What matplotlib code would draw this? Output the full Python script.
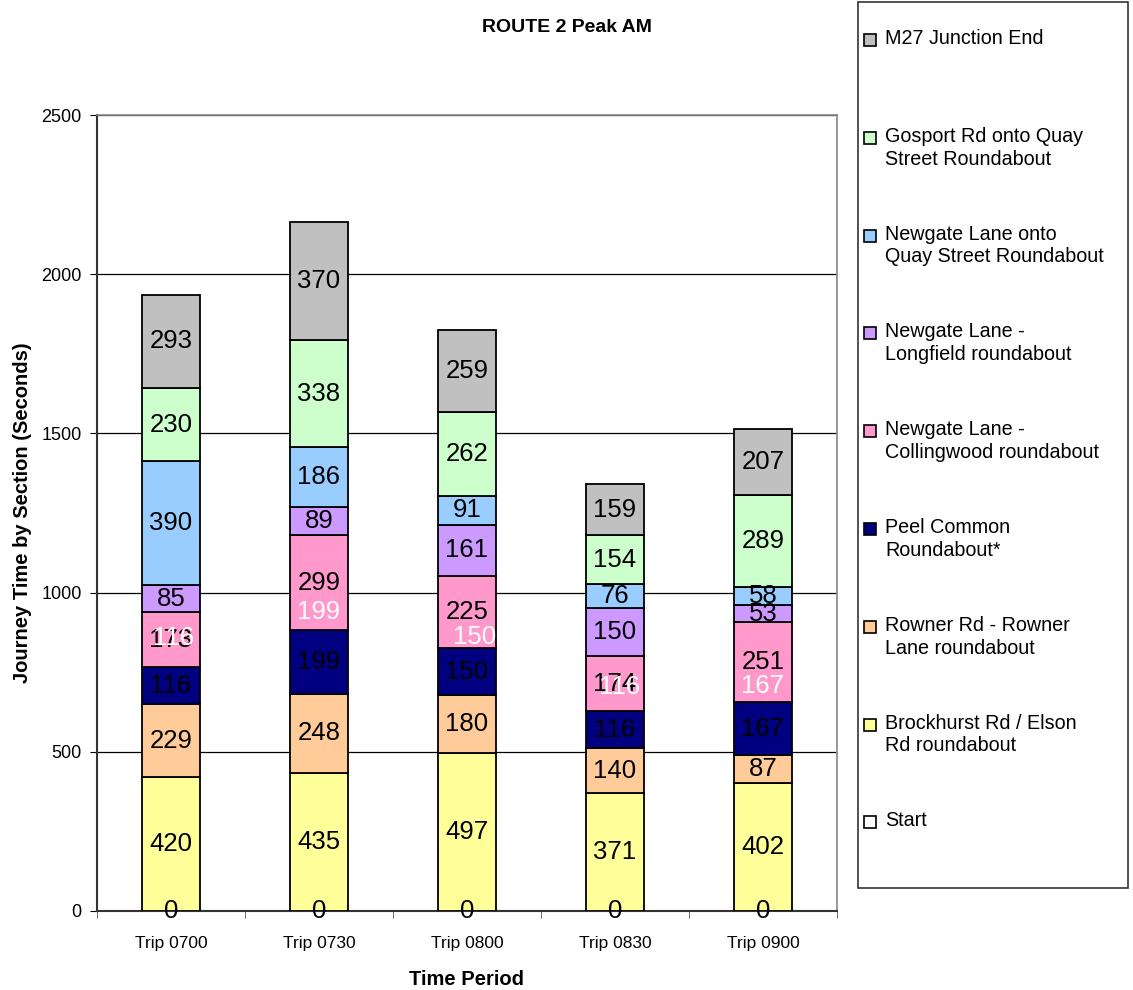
import matplotlib
matplotlib.use('Agg')
import matplotlib.pyplot as plt
from matplotlib.patches import Rectangle
import numpy as np

plt.rcParams['font.family'] = ['Liberation Sans', 'DejaVu Sans']

trips = ['Trip 0700', 'Trip 0730', 'Trip 0800', 'Trip 0830', 'Trip 0900']

# sections, bottom of the stack first
sections = ['Start',
            'Brockhurst Rd / Elson\nRd roundabout',
            'Rowner Rd - Rowner\nLane roundabout',
            'Peel Common\nRoundabout*',
            'Newgate Lane -\nCollingwood roundabout',
            'Newgate Lane -\nLongfield roundabout',
            'Newgate Lane onto\nQuay Street Roundabout',
            'Gosport Rd onto Quay\nStreet Roundabout',
            'M27 Junction End']

start = [0, 0, 0, 0, 0]
brockhurst = [420, 435, 497, 371, 402]
rowner = [229, 248, 180, 140, 87]
peel = [116, 199, 150, 116, 167]
collingwood = [173, 299, 225, 174, 251]
longfield = [85, 89, 161, 150, 53]
newgate_quay = [390, 186, 91, 76, 58]
gosport = [230, 338, 262, 154, 289]
m27 = [293, 370, 259, 159, 207]

series = [start, brockhurst, rowner, peel, collingwood,
          longfield, newgate_quay, gosport, m27]

colours = ['#FFFFFF', '#FFFF99', '#FFCC99', '#000080', '#FF99CC',
           '#CC99FF', '#99CCFF', '#CCFFCC', '#C0C0C0']

# extra white copies of the Peel Common labels sit higher up the bar
peel_white_y = [857, 939, 860, 703, 707]
peel_white_dx = [0.02, 0.0, 0.05, 0.03, 0.0]

fig = plt.figure(figsize=(11.33, 9.9), dpi=100)
ax = fig.add_axes([0.0856, 0.0798, 0.6531, 0.804])

x = np.arange(len(trips))
bottom = np.zeros(len(trips))
for vals, col in zip(series, colours):
    vals = np.array(vals)
    ax.bar(x, vals, 0.395, bottom=bottom, color=col, edgecolor='black',
           linewidth=1.3, zorder=3)
    for xi, b, v in zip(x, bottom, vals):
        ax.text(xi, b + v / 2, str(v), ha='center', va='center',
                fontsize=18.5, color='black', zorder=5)
    bottom = bottom + vals

for xi, v, yy, dx in zip(x, peel, peel_white_y, peel_white_dx):
    ax.text(xi + dx, yy, str(v), ha='center', va='center',
            fontsize=18.5, color='white', zorder=6)

ax.set_xlim(-0.5, len(trips) - 0.5)
ax.set_ylim(0, 2500)
ax.set_yticks(np.arange(0, 2501, 500))
ax.yaxis.grid(True, color='black', linewidth=0.9, zorder=0)
ax.set_axisbelow(True)

ax.set_xticks(x)
ax.set_xticklabels(trips, fontsize=12.5)
ax.set_xticks(np.arange(-0.5, len(trips)), minor=True)
ax.tick_params(axis='x', which='major', length=0, pad=18)
ax.tick_params(axis='x', which='minor', length=5, direction='out', color='#555555')
ax.tick_params(axis='y', labelsize=13, length=5, direction='out', pad=6)

for side in ['top', 'right']:
    ax.spines[side].set_color('#888888')
    ax.spines[side].set_linewidth(1.2)
for side in ['left', 'bottom']:
    ax.spines[side].set_color('#333333')
    ax.spines[side].set_linewidth(1.5)

ax.set_xlabel('Time Period', fontsize=14.5, fontweight='bold', labelpad=14)
ax.set_ylabel('Journey Time by Section (Seconds)', fontsize=14.5,
              fontweight='bold', labelpad=7)
fig.text(0.50, 0.972, 'ROUTE 2 Peak AM', ha='center', va='center',
         fontsize=14, fontweight='bold')

# legend box drawn by hand, top entry first
W, H = 1133.0, 990.0
fig.patches.append(Rectangle((858 / W, 1 - 888 / H), 270 / W, 886 / H,
                             transform=fig.transFigure, facecolor='white',
                             edgecolor='#333333', linewidth=1.2))
for i, (name, col) in enumerate(zip(sections[::-1], colours[::-1])):
    yc = 40 + i * 97.8
    fig.patches.append(Rectangle((864 / W, 1 - (yc + 6) / H), 12 / W, 12 / H,
                                 transform=fig.transFigure, facecolor=col,
                                 edgecolor='black', linewidth=1.2))
    fig.text(885 / W, 1 - (yc - 11) / H, name, ha='left', va='top',
             fontsize=14.2, linespacing=1.25)

fig.savefig('out.png', dpi=100)
